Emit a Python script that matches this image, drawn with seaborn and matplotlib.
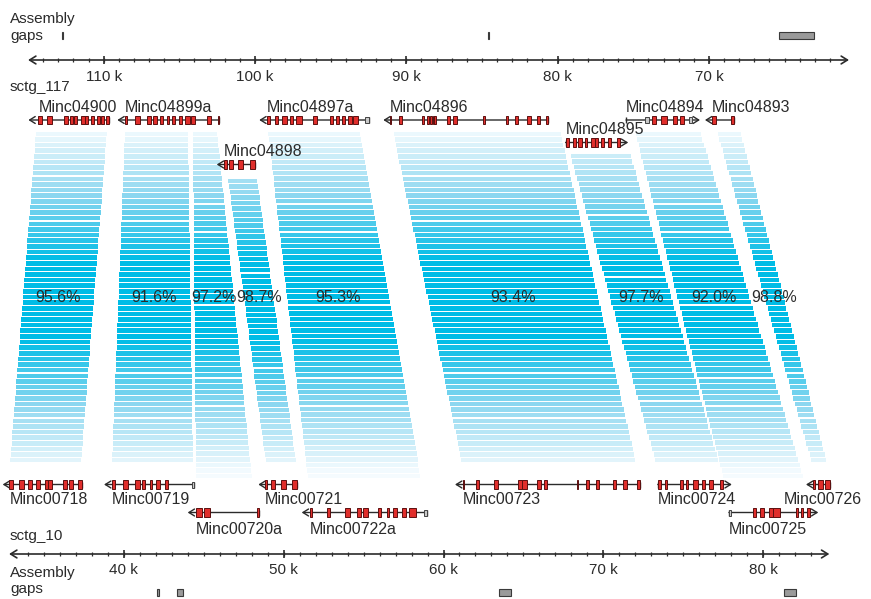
import numpy as np
import matplotlib
matplotlib.use('Agg')
import matplotlib.pyplot as plt
import matplotlib.transforms as mtransforms
from matplotlib.patches import Rectangle
import seaborn as sns

sns.set_theme(style='white')
plt.rcParams['font.family'] = ['Liberation Sans', 'DejaVu Sans']

# ---- contigs (positions in kb) ----
top_name = 'sctg_117'
bot_name = 'sctg_10'
top_range = (115.0, 60.74)
bot_range = (32.83, 84.13)
top_majors = [110, 100, 90, 80, 70]
bot_majors = [40, 50, 60, 70, 80]
top_gaps = [(112.76, 112.66), (84.63, 84.53), (65.35, 63.04)]
bot_gaps = [(42.11, 42.21), (43.31, 43.69), (63.49, 64.24), (81.31, 82.03)]

# ---- genes: span = (from, to), arrow points at `to` ----
top_genes = ['Minc04900', 'Minc04899a', 'Minc04898', 'Minc04897a',
             'Minc04896', 'Minc04895', 'Minc04894', 'Minc04893']
top_rows = [0, 0, 2, 0, 0, 1, 0, 0]
top_spans = [(109.63, 114.98), (102.36, 109.10), (100.00, 102.53), (92.45, 99.72),
             (80.61, 91.52), (79.47, 75.33), (75.48, 70.59), (68.34, 70.26)]
top_exons = [
    [(114.32, 114.06), (113.73, 113.44), (112.60, 112.38), (112.23, 112.01), (111.94, 111.74),
     (111.50, 111.24), (111.24, 111.02), (110.84, 110.66), (110.42, 110.24), (110.18, 109.96),
     (109.85, 109.63)],
    [(108.59, 108.44), (107.93, 107.60), (107.12, 106.89), (106.76, 106.50), (106.28, 106.10),
     (105.84, 105.66), (105.51, 105.29), (105.00, 104.81), (104.63, 104.30), (104.25, 103.97),
     (103.19, 102.93), (102.45, 102.36)],
    [(102.05, 101.87), (101.70, 101.44), (101.10, 100.77), (100.33, 100.00)],
    [(99.23, 99.01), (98.68, 98.46), (98.24, 97.91), (97.69, 97.47), (97.29, 96.92),
     (96.15, 95.92), (95.04, 94.82), (94.65, 94.43), (94.27, 94.05), (93.83, 93.61),
     (93.50, 93.17)],
    [(91.08, 91.01), (90.48, 90.26), (88.98, 88.81), (88.61, 88.48), (88.44, 88.30),
     (88.26, 88.15), (88.15, 88.04), (87.33, 87.11), (86.89, 86.67), (84.91, 84.78),
     (83.43, 83.26), (82.82, 82.64), (82.00, 81.78), (81.34, 81.17), (80.79, 80.61)],
    [(79.47, 79.25), (78.96, 78.79), (78.63, 78.41), (78.19, 78.04), (77.80, 77.53),
     (77.53, 77.31), (77.15, 76.93), (76.65, 76.49), (76.10, 75.88)],
    [(73.78, 73.50), (73.19, 72.79), (72.39, 72.13), (71.91, 71.65)],
    [(69.82, 69.53), (68.56, 68.34)],
]
top_utrs = [[], [], [], [(92.73, 92.45)], [], [], [(74.20, 73.94), (71.30, 71.10)], []]

bot_genes = ['Minc00718', 'Minc00719', 'Minc00720a', 'Minc00721', 'Minc00722a',
             'Minc00723', 'Minc00724', 'Minc00725', 'Minc00726']
bot_rows = [0, 0, 1, 0, 1, 0, 0, 1, 0]
bot_spans = [(37.39, 32.43), (44.40, 38.77), (48.48, 44.00), (50.82, 48.42), (58.95, 51.13),
             (72.29, 60.72), (73.40, 78.03), (77.85, 83.44), (84.17, 82.67)]
bot_exons = [
    [(32.85, 33.10), (33.47, 33.77), (33.99, 34.28), (34.52, 34.77), (35.08, 35.25),
     (35.28, 35.54), (36.19, 36.44), (36.58, 36.85), (37.16, 37.39)],
    [(39.25, 39.46), (39.94, 40.29), (40.71, 41.02), (41.13, 41.33), (41.64, 41.79),
     (42.02, 42.27), (42.58, 42.79)],
    [(44.50, 44.88), (45.02, 45.40), (48.32, 48.48)],
    [(48.84, 48.94), (49.19, 49.46), (49.84, 50.15), (50.51, 50.82)],
    [(51.65, 51.78), (52.70, 52.90), (53.84, 54.15), (54.57, 54.82), (54.99, 55.30),
     (55.92, 56.07), (56.45, 56.61), (56.86, 57.11), (57.39, 57.66), (57.86, 58.28)],
    [(61.20, 61.30), (62.01, 62.22), (63.18, 63.39), (64.64, 64.89), (64.89, 65.20),
     (65.87, 66.08), (66.29, 66.49), (68.33, 68.43), (68.91, 69.12), (69.52, 69.72),
     (70.58, 70.79), (71.25, 71.46), (72.08, 72.29)],
    [(73.40, 73.58), (73.85, 74.00), (74.79, 75.00), (75.17, 75.31), (75.62, 75.93),
     (76.15, 76.36), (76.62, 76.83), (77.29, 77.50)],
    [(79.34, 79.54), (79.79, 80.04), (80.38, 80.59), (80.63, 81.05), (82.02, 82.19),
     (82.34, 82.50), (82.71, 82.92)],
    [(83.13, 83.23), (83.40, 83.71), (83.86, 84.17)],
]
bot_utrs = [[], [(44.25, 44.40)], [], [], [(58.78, 58.95)], [], [], [(77.85, 77.98)], []]

# ---- syntenic blocks ----
band_identity = ['95.6%', '91.6%', '97.2%', '98.7%', '95.3%', '93.4%', '97.7%', '92.0%', '98.8%']
band_top = [(114.47, 109.78), (108.59, 104.43), (104.10, 102.51), (101.78, 99.87),
            (99.14, 93.06), (90.88, 79.84), (79.18, 75.22), (74.89, 70.59), (69.47, 67.94)]
band_bot = [(32.89, 37.33), (39.27, 44.33), (44.52, 48.02), (48.90, 50.78),
            (51.53, 58.59), (61.16, 72.04), (73.29, 77.23), (77.54, 82.54), (83.04, 83.98)]
band_top_row = [0, 0, 0, 2, 0, 0, 1, 0, 0]
band_bot_row = [0, 0, 1, 0, 1, 0, 0, 1, 0]

# ---- layout (figure pixel rows) ----
W, H = 871, 599
top_axis_y, bot_axis_y = 60, 554
top_gene_y = [120, 142.5, 164.5]
bot_gene_y = [484.5, 512.5]
band_start_y = [131, 153, 178]
band_end_y = [463, 479]
ink = '#2b2b2b'
exon_fc, exon_ec = '#e02e2b', '#5c0f0f'
utr_fc = '#c9c9c9'

fig = plt.figure(figsize=(W / 100, H / 100), dpi=100)
ax_bot = fig.add_axes([0, 0, 1, 1])
ax_top = fig.add_axes([0, 0, 1, 1])
ax_top.set_xlim(116.854, 59.286)
ax_bot.set_xlim(32.264, 86.735)
for ax in (ax_top, ax_bot):
    ax.set_ylim(H, 0)
    ax.axis('off')
ax_top.patch.set_alpha(0)


def top_to_bot(kb):
    disp = ax_top.transData.transform([(kb, 0)])
    return ax_bot.transData.inverted().transform(disp)[0, 0]


# bands made of horizontal strips, shaded by height
pal = sns.blend_palette(['#f5fbfe', '#8fd8f0', '#00bce6'], n_colors=64)
pitch = 5.6
for i, lab in enumerate(band_identity):
    y0, y1 = band_start_y[band_top_row[i]], band_end_y[band_bot_row[i]]
    tl, tr = sorted([top_to_bot(v) for v in band_top[i]])
    bl, br = sorted(band_bot[i])
    n = int(round((y1 - y0) / pitch))
    step = (y1 - y0) / n
    for k in range(n):
        yc = y0 + (k + 0.5) * step
        f = (yc - y0) / (y1 - y0)
        xl = tl + f * (bl - tl)
        xr = tr + f * (br - tr)
        t = np.clip((1 - abs(yc - 300) / 172) * 1.3, 0, 1)
        c = pal[int(round(t * (len(pal) - 1)))]
        ax_bot.add_patch(Rectangle((xl, yc - (step - 1.1) / 2), xr - xl, step - 1.1,
                                   fc=c, ec='none', zorder=1))
    yl = 298
    f = (yl - y0) / (y1 - y0)
    xm = (tl + f * (bl - tl) + tr + f * (br - tr)) / 2
    ax_bot.text(xm, yl, lab, ha='center', va='center', fontsize=11.5, color=ink, zorder=6)


def draw_axis(ax, rng, majors, y, label_y):
    ax.annotate('', xy=(rng[0], y), xytext=(rng[1], y),
                arrowprops=dict(arrowstyle='<->,head_length=0.45,head_width=0.28',
                                color=ink, lw=1.2, shrinkA=0, shrinkB=0, mutation_scale=10))
    lo, hi = sorted(rng)
    minors = np.arange(np.ceil(lo), np.floor(hi) + 0.5)
    minors = minors[(minors > lo + 0.4) & (minors < hi - 0.4)]
    ax.vlines(minors, y - 2.2, y + 2.2, color=ink, lw=0.9)
    ax.vlines(majors, y - 4.2, y + 4.2, color=ink, lw=1.2)
    for m in majors:
        ax.text(m, label_y, f'{m} k', ha='center', va='center', fontsize=11, color=ink)


def draw_gaps(ax, gaps, y):
    for s, e in gaps:
        ax.add_patch(Rectangle((min(s, e), y - 3.8), abs(e - s), 7.6,
                               fc='#9a9a9a', ec='#3a3a3a', lw=0.8, zorder=3))


def draw_gene(ax, name, span, exons, utrs, y, label_y, reverse):
    frm, to = span
    ax.annotate('', xy=(to, y), xytext=(frm, y),
                arrowprops=dict(arrowstyle='->,head_length=0.4,head_width=0.25',
                                color=ink, lw=1.0, shrinkA=0, shrinkB=0, mutation_scale=10),
                zorder=3)
    ax.vlines(frm, y - 3, y + 3, color=ink, lw=1.0, zorder=3)
    for s, e in utrs:
        ax.add_patch(Rectangle((min(s, e), y - 3), abs(e - s), 6,
                               fc=utr_fc, ec='#444444', lw=0.7, zorder=4))
    for s, e in exons:
        ax.add_patch(Rectangle((min(s, e), y - 4.3), abs(e - s), 8.6,
                               fc=exon_fc, ec=exon_ec, lw=0.7, zorder=4))
    pts = [frm] + [v for s_e in exons + utrs for v in s_e]
    left = max(pts) if reverse else min(pts)
    return ax.text(left, label_y, name, ha='left', va='center', fontsize=11.5,
                   color=ink, zorder=6)


labels = []
for i, g in enumerate(top_genes):
    r = top_rows[i]
    labels.append(draw_gene(ax_top, g, top_spans[i], top_exons[i], top_utrs[i],
                            top_gene_y[r], top_gene_y[r] - 13, True))
for i, g in enumerate(bot_genes):
    r = bot_rows[i]
    ly = bot_gene_y[r] + (15 if r == 0 else 16.5)
    labels.append(draw_gene(ax_bot, g, bot_spans[i], bot_exons[i], bot_utrs[i],
                            bot_gene_y[r], ly, False))

draw_axis(ax_top, top_range, top_majors, top_axis_y, 77)
draw_axis(ax_bot, bot_range, bot_majors, bot_axis_y, 570)
draw_gaps(ax_top, top_gaps, 35.5)
draw_gaps(ax_bot, bot_gaps, 592.5)

left_tf = mtransforms.blended_transform_factory(ax_top.transAxes, ax_top.transData)
ax_top.text(10 / W, 12, 'Assembly\ngaps', transform=left_tf, ha='left', va='top',
            fontsize=11, color=ink, linespacing=1.25)
ax_top.text(10 / W, 87, top_name, transform=left_tf, ha='left', va='center',
            fontsize=11, color=ink)
ax_top.text(10 / W, 536, bot_name, transform=left_tf, ha='left', va='center',
            fontsize=11, color=ink)
ax_top.text(10 / W, 566, 'Assembly\ngaps', transform=left_tf, ha='left', va='top',
            fontsize=11, color=ink, linespacing=1.15)

# keep gene labels inside the figure
fig.canvas.draw()
renderer = fig.canvas.get_renderer()
for t in labels:
    bb = t.get_window_extent(renderer)
    if bb.x1 > W - 9:
        ax = t.axes
        x_disp = ax.transData.transform([t.get_position()])[0, 0] - (bb.x1 - (W - 9))
        t.set_x(ax.transData.inverted().transform([(x_disp, 0)])[0, 0])

fig.savefig('out.png', dpi=100)
